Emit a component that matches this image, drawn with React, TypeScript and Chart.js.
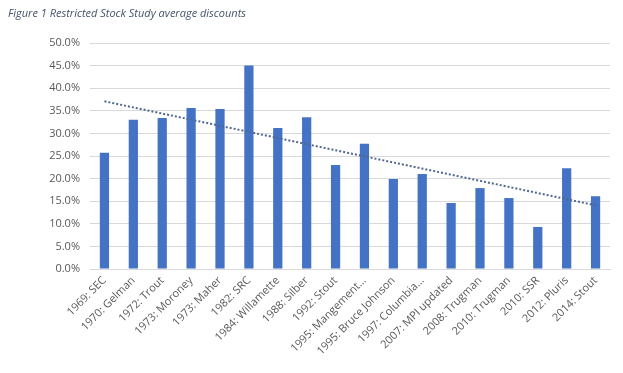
import React, { useEffect, useRef } from "react";
import { Chart, registerables } from "chart.js";

Chart.register(...registerables);

const categories = [
  "1969: SEC",
  "1970: Gelman",
  "1972: Trout",
  "1973: Moroney",
  "1973: Maher",
  "1982: SRC",
  "1984: Willamette",
  "1988: Silber",
  "1992: Stout",
  "1995: Mangement…",
  "1995: Bruce Johnson",
  "1997: Columbia…",
  "2007: MPI updated",
  "2008: Trugman",
  "2010: Trugman",
  "2010: SSR",
  "2012: Pluris",
  "2014: Stout",
];

const discounts = [
  25.7, 33.0, 33.4, 35.6, 35.4, 45.0, 31.2, 33.6, 23.0, 27.7, 19.9, 21.0, 14.6,
  17.9, 15.7, 9.3, 22.3, 16.1,
];

// Linear trendline endpoints (first and last category)
const trendStart = 37.1;
const trendEnd = 14.1;

const yTicks = [0, 5, 10, 15, 20, 25, 30, 35, 40, 45, 50];

export default function App() {
  const ref = useRef<HTMLCanvasElement | null>(null);

  useEffect(() => {
    if (!ref.current) return;
    const trend = categories.map((_, i) =>
      i === 0 ? trendStart : i === categories.length - 1 ? trendEnd : null
    );
    const font = { family: "'Open Sans', sans-serif", size: 11 };
    const chart = new Chart(ref.current, {
      type: "bar",
      data: {
        labels: categories,
        datasets: [
          {
            type: "bar",
            data: discounts,
            backgroundColor: "#4472C4",
            categoryPercentage: 1,
            barPercentage: 0.32,
            order: 2,
          },
          {
            type: "line",
            data: trend as any,
            spanGaps: true,
            borderColor: "#50678F",
            borderWidth: 2,
            borderDash: [2, 2],
            pointRadius: 0,
            fill: false,
            order: 1,
          },
        ],
      },
      options: {
        animation: false,
        responsive: false,
        layout: { padding: { top: 43, left: 0, right: 13, bottom: 0 } },
        plugins: {
          legend: { display: false },
          tooltip: { enabled: false },
          title: { display: false },
        },
        scales: {
          x: {
            grid: { display: false, drawTicks: false },
            border: { color: "#d9d9d9" },
            ticks: {
              minRotation: 45,
              maxRotation: 45,
              autoSkip: false,
              color: "#595959",
              font,
              padding: 5,
            },
            afterFit: (s: any) => {
              s.height = 104;
            },
          },
          y: {
            min: 0,
            max: 50,
            afterBuildTicks: (s: any) => {
              s.ticks = yTicks.map((v) => ({ value: v }));
            },
            grid: { color: "#d9d9d9", drawTicks: false },
            border: { display: false },
            ticks: {
              color: "#595959",
              font,
              padding: 10,
              callback: (v: any) => Number(v).toFixed(1) + "%",
            },
            afterFit: (s: any) => {
              s.width = 90;
            },
          },
        },
      },
    });
    return () => chart.destroy();
  }, []);

  return (
    <div style={{ position: "absolute", left: 0, top: 0, width: 623, height: 373, background: "#fff" }}>
      <canvas ref={ref} width={623} height={373} style={{ position: "absolute", left: 0, top: 0 }} />
      <div
        style={{
          position: "absolute",
          left: 8,
          top: 5,
          fontFamily: "'Open Sans', sans-serif",
          fontStyle: "italic",
          fontSize: 11,
          color: "#44546A",
          whiteSpace: "nowrap",
        }}
      >
        Figure 1 Restricted Stock Study average discounts
      </div>
    </div>
  );
}
